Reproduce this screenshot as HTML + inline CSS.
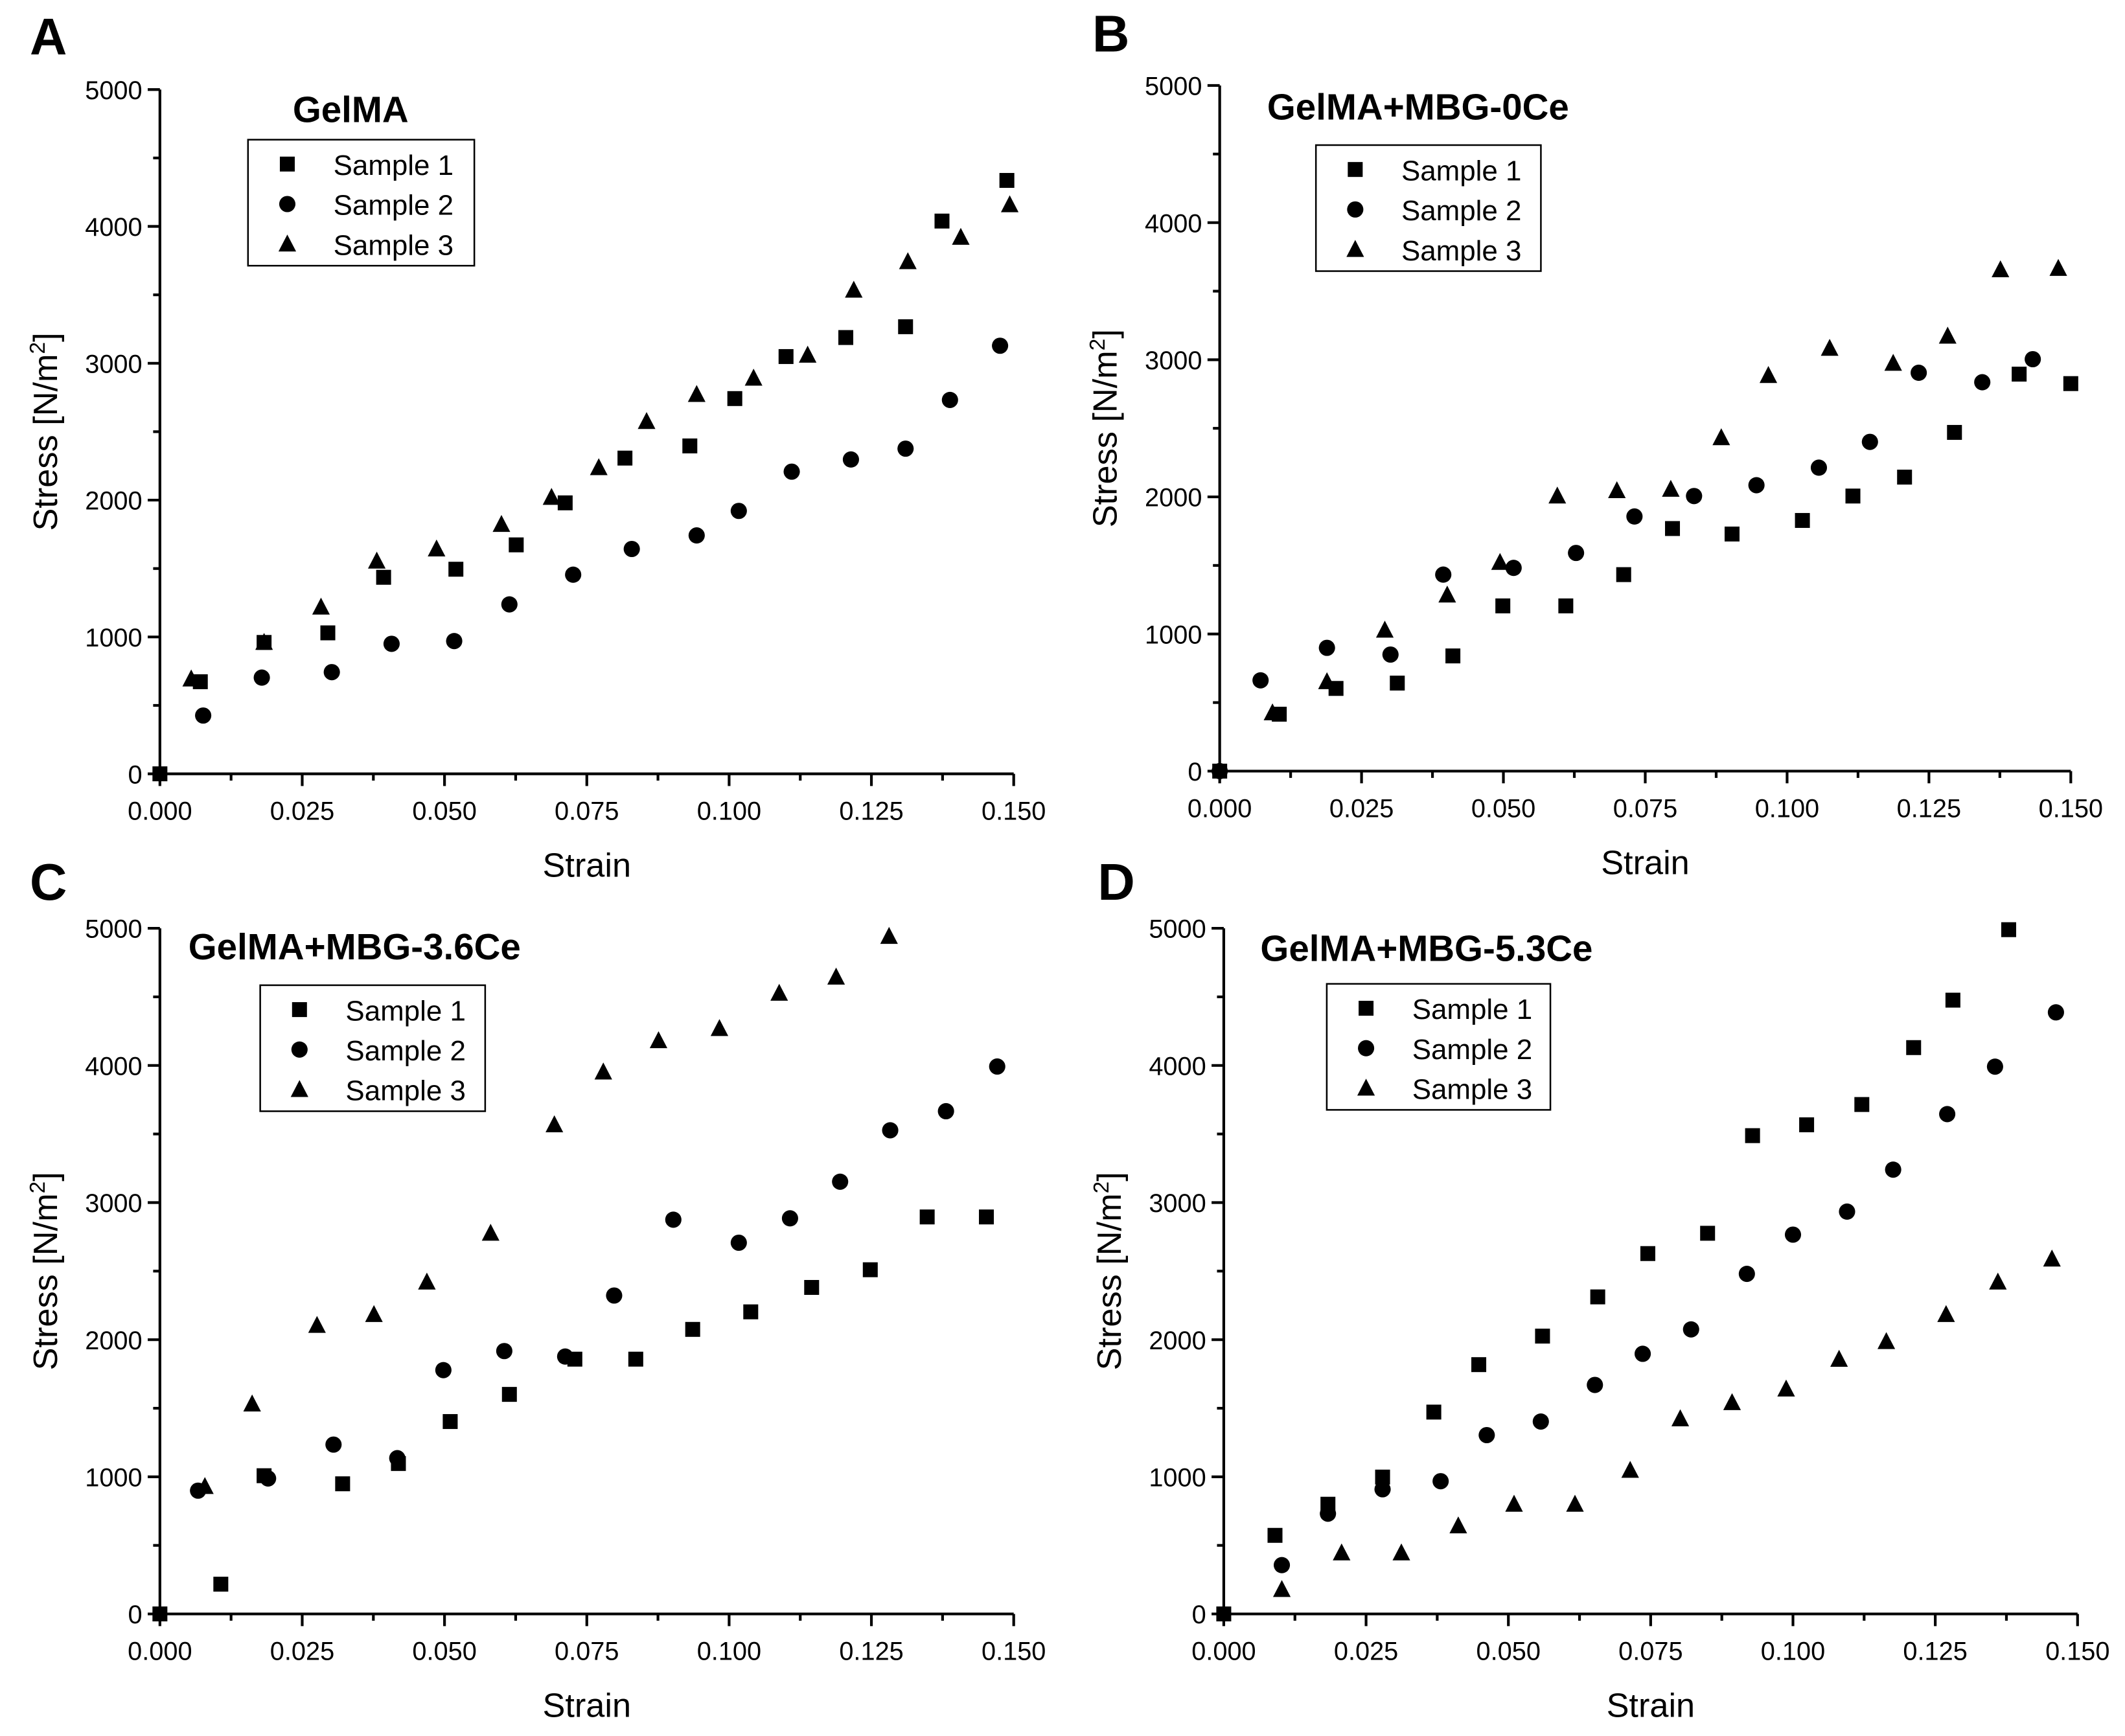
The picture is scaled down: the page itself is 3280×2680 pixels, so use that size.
<!DOCTYPE html>
<html><head><meta charset="utf-8"><style>
html,body{margin:0;padding:0;background:#fff}
svg{display:block}
text{font-family:"Liberation Sans",sans-serif;fill:#000}
</style></head><body>
<svg id="fig" width="3280" height="2680" viewBox="0 0 1568 1281" xmlns="http://www.w3.org/2000/svg"></svg>
<script>
const xTicks = [0, 0.025, 0.05, 0.075, 0.1, 0.125, 0.15];
const xTickLabels = ["0.000","0.025","0.050","0.075","0.100","0.125","0.150"];
const yTicks = [0, 1000, 2000, 3000, 4000, 5000];
const yTickLabels = ["0","1000","2000","3000","4000","5000"];
const seriesNames = ["Sample 1","Sample 2","Sample 3"];

const aS1x=[0,0.0071,0.0183,0.0295,0.0393,0.052,0.0626,0.0712,0.0817,0.0931,0.101,0.110,0.1205,0.131,0.1374,0.1488];
const aS1y=[0,673,960,1030,1436,1495,1673,1980,2307,2396,2742,3049,3188,3267,4039,4336];
const aS2x=[0.0076,0.0179,0.0302,0.0407,0.0517,0.0614,0.0726,0.0829,0.0943,0.1017,0.1110,0.1214,0.131,0.1388,0.1476];
const aS2y=[426,703,743,950,970,1238,1455,1643,1742,1921,2208,2297,2376,2732,3128];
const aS3x=[0.0055,0.0183,0.0283,0.0381,0.0486,0.060,0.0688,0.0771,0.0855,0.0943,0.1043,0.1138,0.1219,0.1314,0.1407,0.1493];
const aS3y=[693,960,1218,1554,1643,1822,2020,2237,2574,2772,2891,3059,3534,3742,3920,4158];

const bS1x=[0,0.0105,0.0205,0.0313,0.0411,0.0499,0.061,0.0712,0.0798,0.0903,0.1027,0.1116,0.1207,0.1295,0.1409,0.15];
const bS1y=[0,415,603,642,840,1205,1205,1433,1769,1729,1828,2006,2144,2470,2895,2826];
const bS2x=[0,0.0072,0.0189,0.0301,0.0394,0.0518,0.0628,0.0731,0.0836,0.0946,0.1056,0.1146,0.1232,0.1344,0.1433];
const bS2y=[0,662,899,850,1433,1482,1591,1857,2006,2085,2213,2401,2905,2836,3004];
const bS3x=[0.0093,0.0189,0.0291,0.0401,0.0494,0.0595,0.070,0.0795,0.0884,0.0967,0.1075,0.1187,0.1283,0.1376,0.1478];
const bS3y=[425,652,1028,1284,1522,2006,2045,2055,2431,2885,3083,2974,3172,3656,3666];

const cS1x=[0,0.0107,0.0183,0.0321,0.0419,0.0510,0.0614,0.0729,0.0836,0.0936,0.1038,0.1145,0.1248,0.1348,0.1452];
const cS1y=[0,217,1008,949,1097,1403,1601,1858,1858,2075,2203,2381,2510,2895,2895];
const cS2x=[0.0067,0.0190,0.0305,0.0417,0.0498,0.0605,0.0712,0.0798,0.0902,0.1017,0.1107,0.1195,0.1283,0.1381,0.1471];
const cS2y=[899,988,1235,1136,1778,1917,1877,2322,2875,2707,2885,3152,3527,3666,3992];
const cS3x=[0.0079,0.0162,0.0276,0.0376,0.0469,0.0581,0.0693,0.0779,0.0876,0.0983,0.1088,0.1188,0.1281];
const cS3y=[929,1531,2104,2183,2420,2776,3567,3952,4180,4269,4526,4644,4941];

const dS1x=[0,0.0090,0.0183,0.0279,0.0369,0.0448,0.056,0.0657,0.0745,0.085,0.0929,0.1024,0.1121,0.1212,0.1281,0.1379];
const dS1y=[0,573,800,998,1472,1818,2026,2312,2628,2776,3488,3567,3715,4130,4476,4990];
const dS2x=[0.0102,0.0183,0.0279,0.0381,0.0462,0.0557,0.0652,0.0736,0.0821,0.0919,0.1,0.1095,0.1176,0.1271,0.1355,0.1462];
const dS2y=[356,731,909,968,1304,1403,1670,1897,2075,2480,2766,2934,3240,3645,3991,4387];
const dS3x=[0.0102,0.0207,0.0312,0.0412,0.0510,0.0617,0.0714,0.0802,0.0893,0.0988,0.1081,0.1164,0.1269,0.1360,0.1455];
const dS3y=[178,445,445,642,800,800,1047,1423,1541,1640,1857,1986,2183,2420,2588];

const NS="http://www.w3.org/2000/svg";
const svg=document.getElementById('fig');
function mk(tag,attrs,parent){const e=document.createElementNS(NS,tag);for(const k in attrs)e.setAttribute(k,attrs[k]);(parent||svg).appendChild(e);return e;}
function txt(str,attrs,parent){const t=mk('text',attrs,parent);t.textContent=str;return t;}

function marker(g,type,cx,cy){
  let m;
  if(type===0){m=mk('rect',{x:cx-5.5,y:cy-5.5,width:11,height:11},g);}
  else if(type===1){m=mk('circle',{cx:cx,cy:cy,r:6},g);}
  else{m=mk('polygon',{points:`${cx},${cy-7} ${cx-6.5},${cy+5.5} ${cx+6.5},${cy+5.5}`},g);}
  m.setAttribute('fill','#000');
  return m;
}

const panels=[
 {id:'a',letter:'A',title:'GelMA',x0:118,x1:748,y0:571,y1:66,tx:216,ty:90,lx:183,ly:103,lw:167,lh:93,lettX:22,lettY:40,data:[[aS1x,aS1y],[aS2x,aS2y],[aS3x,aS3y]]},
 {id:'b',letter:'B',title:'GelMA+MBG-0Ce',x0:900,x1:1528,y0:569,y1:63,tx:935,ty:88,lx:971,ly:107,lw:166,lh:93,lettX:806,lettY:38,data:[[bS1x,bS1y],[bS2x,bS2y],[bS3x,bS3y]]},
 {id:'c',letter:'C',title:'GelMA+MBG-3.6Ce',x0:118,x1:748,y0:1191,y1:685,tx:139,ty:708,lx:192,ly:727,lw:166,lh:93,lettX:22,lettY:664,data:[[cS1x,cS1y],[cS2x,cS2y],[cS3x,cS3y]]},
 {id:'d',letter:'D',title:'GelMA+MBG-5.3Ce',x0:903,x1:1533,y0:1191,y1:685,tx:930,ty:709,lx:979,ly:726,lw:165,lh:93,lettX:810,lettY:664,data:[[dS1x,dS1y],[dS2x,dS2y],[dS3x,dS3y]]}
];

panels.forEach(p=>{
  const g=mk('g',{});
  
  
  const X=v=>p.x0+(v-0)/(0.15)*(p.x1-p.x0);
  const Y=v=>p.y0-(v/5000)*(p.y0-p.y1);
  const lt=txt(p.letter,{x:p.lettX,y:p.lettY,'font-size':38,'font-weight':'bold','font-family':'"DejaVu Sans",sans-serif'},g);
  
  
  // axes
  const ax=mk('g',{stroke:'#000','stroke-width':2,fill:'none'},g);
  
  
  mk('line',{x1:p.x0,y1:p.y0,x2:p.x1,y2:p.y0},ax);
  mk('line',{x1:p.x0,y1:p.y0,x2:p.x0,y2:p.y1},ax);
  xTicks.forEach((v,i)=>{
    mk('line',{x1:X(v),y1:p.y0,x2:X(v),y2:p.y0+9},ax);
    if(i<xTicks.length-1){const mv=v+0.0125;mk('line',{x1:X(mv),y1:p.y0,x2:X(mv),y2:p.y0+5},ax);}
    const t=txt(xTickLabels[i],{x:X(v),y:p.y0+34,'font-size':19,'text-anchor':'middle'},g);
    
    
  });
  yTicks.forEach((v,i)=>{
    mk('line',{x1:p.x0,y1:Y(v),x2:p.x0-9,y2:Y(v)},ax);
    if(i<yTicks.length-1){mk('line',{x1:p.x0,y1:Y(v+500),x2:p.x0-5,y2:Y(v+500)},ax);}
    const t=txt(yTickLabels[i],{x:p.x0-13,y:Y(v)+7,'font-size':19,'text-anchor':'end'},g);
    
    
  });
  const xt=txt('Strain',{x:(p.x0+p.x1)/2,y:p.y0+76,'font-size':25,'text-anchor':'middle'},g);
  
  
  const yc=(p.y0+p.y1)/2, yx=p.x0-76;
  const yt=mk('text',{x:yx,y:yc,'font-size':25,'text-anchor':'middle',transform:`rotate(-90 ${yx} ${yc})`},g);
  yt.innerHTML='Stress [N/m<tspan dy="-9" font-size="16">2</tspan><tspan dy="9">]</tspan>';
  
  
  const tt=txt(p.title,{x:p.tx,y:p.ty,'font-size':27,'font-weight':'bold'},g);
  
  
  // series
  p.data.forEach((s,si)=>{
    const sg=mk('g',{},g);
    
    
    s[0].forEach((xv,k)=>{
      const m=marker(sg,si,X(xv),Y(s[1][k]));
      
      
    });
  });
  // legend
  const lg=mk('g',{},g);
  
  
  mk('rect',{x:p.lx,y:p.ly,width:p.lw,height:p.lh,fill:'#fff',stroke:'#000','stroke-width':1.2},lg);
  seriesNames.forEach((n,i)=>{
    const ry=p.ly+18+i*29.5;
    const le=mk('g',{},lg);
    
    
    marker(le,i,p.lx+29,ry);
    txt(n,{x:p.lx+63,y:ry+8,'font-size':21},le);
  });
});
</script>
</body></html>
